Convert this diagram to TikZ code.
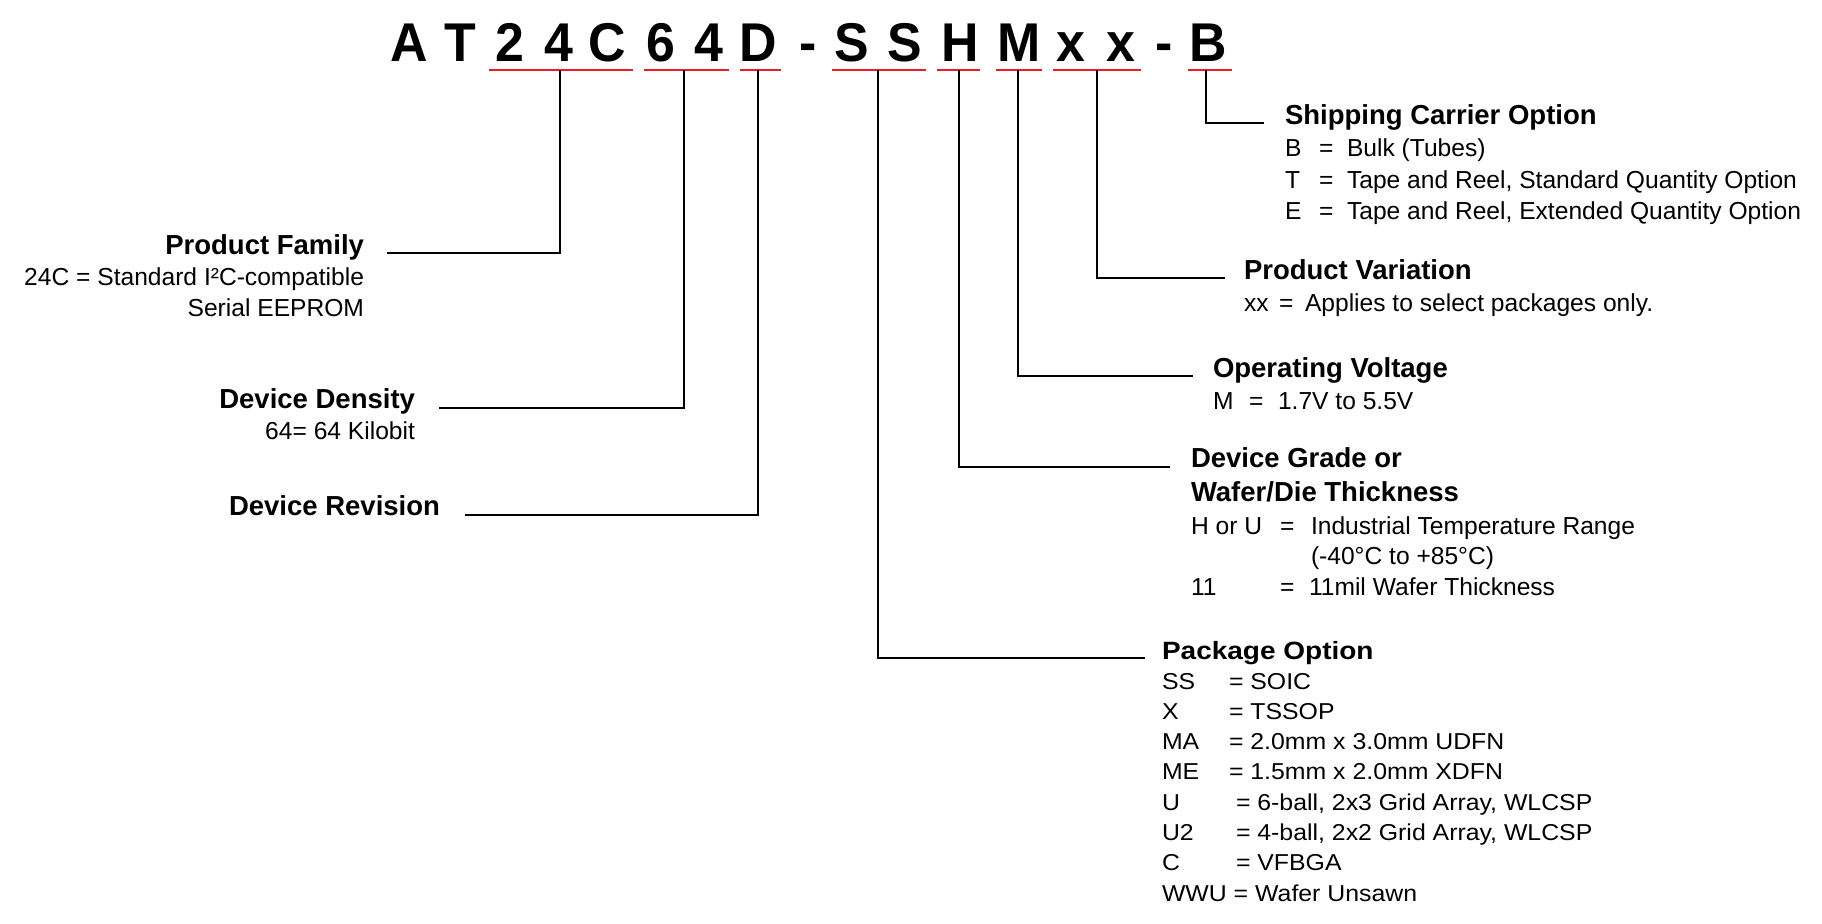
\documentclass[tikz,border=0pt]{standalone}
\usepackage{fontspec}
\setmainfont{Liberation Sans}
\newfontfamily\titlefont[FakeStretch=0.95]{Liberation Sans}
\newfontfamily\widefont[FakeStretch=1.08]{Liberation Sans}
\newfontfamily\wideheadfont[FakeStretch=1.12]{Liberation Sans}
\definecolor{ulred}{RGB}{237,28,36}
\begin{document}
\begin{tikzpicture}[x=0.5pt,y=-0.5pt,
  every node/.style={inner sep=0pt, outer sep=0pt},
  ttl/.style={font=\titlefont\bfseries\fontsize{27.3}{27.3}\selectfont, anchor=base},
  headR/.style={font=\bfseries\fontsize{13.75}{13.75}\selectfont, anchor=base west},
  headL/.style={font=\bfseries\fontsize{13.75}{13.75}\selectfont, anchor=base east},
  txtR/.style={font=\fontsize{12.3}{12.3}\selectfont, anchor=base west},
  txtL/.style={font=\fontsize{12.3}{12.3}\selectfont, anchor=base east},
  pkhead/.style={font=\wideheadfont\bfseries\fontsize{12.5}{12.5}\selectfont, anchor=base west},
  pktxt/.style={font=\widefont\fontsize{11.5}{11.5}\selectfont, anchor=base west},
  uline/.style={draw=ulred, line width=0.6pt},
  lead/.style={draw=black, line width=0.65pt}]
\useasboundingbox (0,0) rectangle (1822,924);

% ---- part number title ----
\node[ttl] (t1) at (409,62) {A};
\node[ttl] (t2) at (460,62) {T};
\node[ttl] (t3) at (510,62) {2};
\node[ttl] (t4) at (559,62) {4};
\node[ttl] (t5) at (607,62) {C};
\node[ttl] (t6) at (661,62) {6};
\node[ttl] (t7) at (709,62) {4};
\node[ttl] (t8) at (758,62) {D};
\node[ttl] (t9) at (808,62) {-};
\node[ttl] (t10) at (852,62) {S};
\node[ttl] (t11) at (905,62) {S};
\node[ttl] (t12) at (960,62) {H};
\node[ttl] (t13) at (1019,62) {M};
\node[ttl] (t14) at (1071,62) {x};
\node[ttl] (t15) at (1121,62) {x};
\node[ttl] (t16) at (1164,62) {-};
\node[ttl] (t17) at (1208,62) {B};

% ---- red underlines ----
\coordinate (u1a) at (489,70);  \coordinate (u1b) at (633,70);
\coordinate (u2a) at (644,70);  \coordinate (u2b) at (729,70);
\coordinate (u3a) at (740,70);  \coordinate (u3b) at (781,70);
\coordinate (u4a) at (832,70);  \coordinate (u4b) at (926,70);
\coordinate (u5a) at (937,70);  \coordinate (u5b) at (980,70);
\coordinate (u6a) at (996,70);  \coordinate (u6b) at (1042,70);
\coordinate (u7a) at (1053,70); \coordinate (u7b) at (1141,70);
\coordinate (u8a) at (1188,70); \coordinate (u8b) at (1232,70);
\foreach \i in {1,...,8} { \draw[uline] (u\i a) -- (u\i b); }

% ---- leader start and end points ----
\coordinate (c1) at (560,70);  \coordinate (e1) at (387,253);
\coordinate (c2) at (684,70);  \coordinate (e2) at (439,408);
\coordinate (c3) at (758,70);  \coordinate (e3) at (465,515);
\coordinate (c4) at (878,70);  \coordinate (e4) at (1145,658);
\coordinate (c5) at (959,70);  \coordinate (e5) at (1170,467);
\coordinate (c6) at (1018,70); \coordinate (e6) at (1193,376);
\coordinate (c7) at (1097,70); \coordinate (e7) at (1225,278);
\coordinate (c8) at (1206,70); \coordinate (e8) at (1264,123);
\foreach \i in {1,...,8} { \draw[lead] (c\i) |- (e\i); }

% ---- left descriptions ----
\node[headL] (pfh) at (364,255) {Product Family};
\node[txtL] (pf1) at (364,286) {24C = Standard I²C-compatible};
\node[txtL] (pf2) at (364,317) {Serial EEPROM};
\node[headL] (ddh) at (415,409) {Device Density};
\node[txtL] (dd1) at (415,440) {64= 64 Kilobit};
\node[headL] (drh) at (440,516) {Device Revision};

% ---- shipping carrier ----
\node[headR] (sch) at (1285,125) {Shipping Carrier Option};
\node[txtR] (sc1k) at (1285,157) {B};
\node[txtR] (sc1e) at (1319,157) {=};
\node[txtR] (sc1v) at (1347,157) {Bulk (Tubes)};
\node[txtR] (sc2k) at (1285,188.5) {T};
\node[txtR] (sc2e) at (1319,188.5) {=};
\node[txtR] (sc2v) at (1347,188.5) {Tape and Reel, Standard Quantity Option};
\node[txtR] (sc3k) at (1285,220) {E};
\node[txtR] (sc3e) at (1319,220) {=};
\node[txtR] (sc3v) at (1347,220) {Tape and Reel, Extended Quantity Option};

% ---- product variation ----
\node[headR] (pvh) at (1244,280) {Product Variation};
\node[txtR] (pv1k) at (1244,312) {xx};
\node[txtR] (pv1e) at (1279,312) {=};
\node[txtR] (pv1v) at (1305,312) {Applies to select packages only.};

% ---- operating voltage ----
\node[headR] (ovh) at (1213,378) {Operating Voltage};
\node[txtR] (ov1k) at (1213,410) {M};
\node[txtR] (ov1e) at (1249,410) {=};
\node[txtR] (ov1v) at (1278,410) {1.7V to 5.5V};

% ---- device grade ----
\node[headR] (dgh1) at (1191,468) {Device Grade or};
\node[headR] (dgh2) at (1191,502) {Wafer/Die Thickness};
\node[txtR] (dg1k) at (1191,535) {H or U};
\node[txtR] (dg1e) at (1280,535) {=};
\node[txtR] (dg1v) at (1311,535) {Industrial Temperature Range};
\node[txtR] (dg2v) at (1311,565) {(-40°C to +85°C)};
\node[txtR] (dg3k) at (1191,596) {11};
\node[txtR] (dg3e) at (1280,596) {=};
\node[txtR] (dg3v) at (1309,596) {11mil Wafer Thickness};

% ---- package option ----
\node[pkhead] (pkh) at (1162,660) {Package Option};
\node[pktxt] (pk1k) at (1162,690) {SS};
\node[pktxt] (pk1v) at (1229,690) {= SOIC};
\node[pktxt] (pk2k) at (1162,720) {X};
\node[pktxt] (pk2v) at (1229,720) {= TSSOP};
\node[pktxt] (pk3k) at (1162,750) {MA};
\node[pktxt] (pk3v) at (1229,750) {= 2.0mm x 3.0mm UDFN};
\node[pktxt] (pk4k) at (1162,780) {ME};
\node[pktxt] (pk4v) at (1229,780) {= 1.5mm x 2.0mm XDFN};
\node[pktxt] (pk5k) at (1162,810.5) {U};
\node[pktxt] (pk5v) at (1236,810.5) {= 6-ball, 2x3 Grid Array, WLCSP};
\node[pktxt] (pk6k) at (1162,840.5) {U2};
\node[pktxt] (pk6v) at (1236,840.5) {= 4-ball, 2x2 Grid Array, WLCSP};
\node[pktxt] (pk7k) at (1162,870.5) {C};
\node[pktxt] (pk7v) at (1236,870.5) {= VFBGA};
\node[pktxt] (pk8) at (1162,901) {WWU = Wafer Unsawn};
\end{tikzpicture}
\end{document}
